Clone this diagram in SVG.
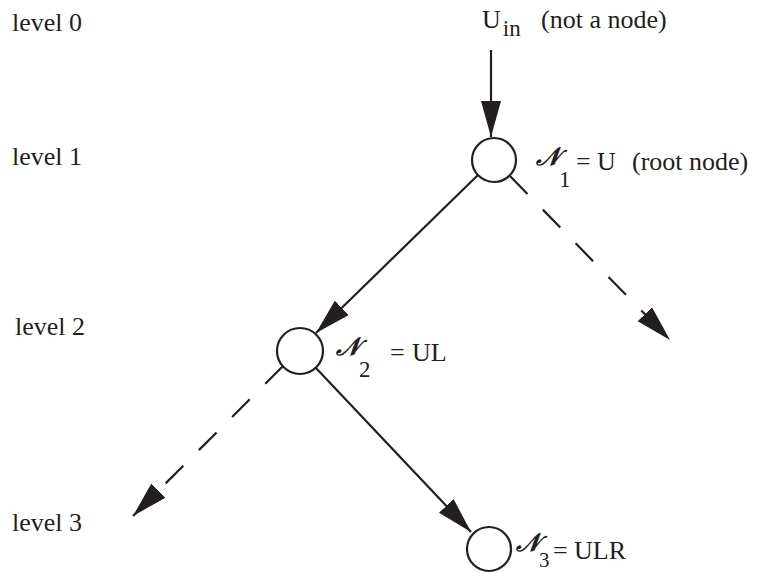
<svg xmlns="http://www.w3.org/2000/svg" width="781" height="573" viewBox="0 0 781 573">
<style>
text{font-family:"Liberation Serif","Times New Roman",serif;font-size:26px;fill:#231f20}
.sub{font-size:23px}
.cal{font-family:"DejaVu Serif",serif;font-size:25px;font-style:italic;font-weight:bold}
.node{fill:#fff;stroke:#231f20;stroke-width:2.2}
.edge{stroke:#231f20;stroke-width:2.2;fill:none}
.dash{stroke-dasharray:25 22}
</style>
<defs>
<marker id="ah" markerUnits="userSpaceOnUse" markerWidth="38" markerHeight="22" refX="36" refY="10" orient="auto">
<path d="M0,0 L36,10 L0,20 Z" fill="#231f20"/>
</marker>
</defs>
<g id="levels">
<text x="12" y="31">level 0</text>
<text x="12" y="165">level 1</text>
<text x="15" y="335">level 2</text>
<text x="12" y="531">level 3</text>
</g>
<g id="input-label">
<text x="482" y="28">U<tspan class="sub" dy="8" dx="2">in</tspan></text>
<text x="541" y="28">(not a node)</text>
</g>
<g id="connectors">
<line class="edge" x1="491" y1="50" x2="491" y2="137" marker-end="url(#ah)"/>
<line class="edge" x1="478" y1="175" x2="316" y2="333" marker-end="url(#ah)"/>
<line class="edge dash" x1="510" y1="176" x2="670" y2="340" marker-end="url(#ah)"/>
<line class="edge" x1="315" y1="367" x2="471" y2="532" marker-end="url(#ah)"/>
<line class="edge dash" x1="283" y1="366" x2="133" y2="516" marker-end="url(#ah)"/>
</g>
<g id="node1">
<circle class="node" cx="494" cy="160" r="22"/>
<text class="cal" x="536" y="165">𝒩</text>
<text class="sub" x="559" y="187">1</text>
<text x="576" y="170">=</text>
<text x="597" y="170">U</text>
<text x="632" y="170">(root node)</text>
</g>
<g id="node2">
<circle class="node" cx="300" cy="351" r="23"/>
<text class="cal" x="336" y="355">𝒩</text>
<text class="sub" x="359" y="377">2</text>
<text x="390" y="361">=</text>
<text x="412" y="361">UL</text>
</g>
<g id="node3">
<circle class="node" cx="489" cy="549" r="22"/>
<text class="cal" x="516" y="551">𝒩</text>
<text class="sub" x="539" y="567" style="font-size:21px">3</text>
<text x="553" y="559">=</text>
<text x="574" y="559">ULR</text>
</g>
</svg>
